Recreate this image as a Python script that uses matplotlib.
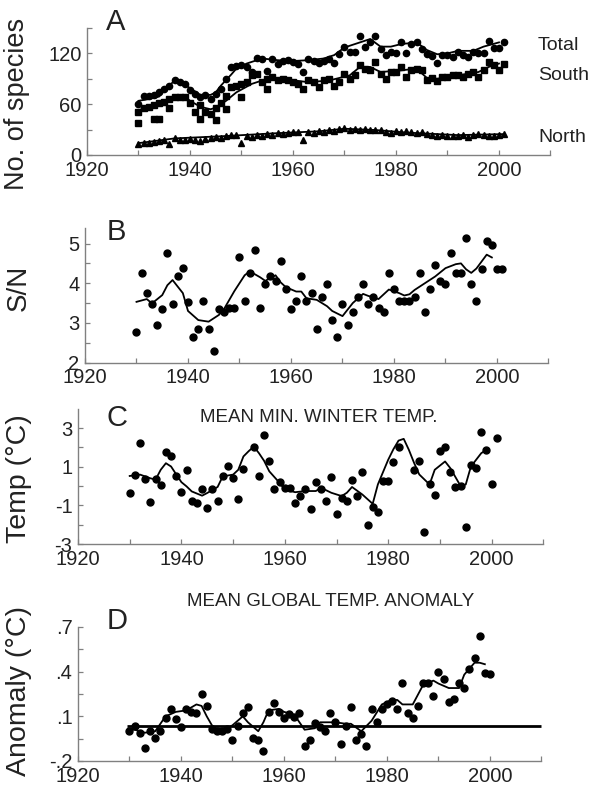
import numpy as np
import matplotlib
matplotlib.use('Agg')
import matplotlib.pyplot as plt
from matplotlib.ticker import FixedLocator

plt.rcParams['font.family'] = ['Liberation Sans', 'DejaVu Sans']

# ---- panel A : number of species ----
years_a = list(range(1930, 2002))
total = [60, 70, 70, 71, 74, 78, 82, 88, 86, 84,
         77, 72, 68, 71, 66, 72, 78, 90, 104, 105,
         106, 104, 98, 115, 113, 99, 113, 107, 111, 112,
         110, 107, 98, 113, 111, 109, 111, 113, 109, 119,
         127, 122, 122, 141, 127, 133, 140, 125, 118, 122,
         120, 134, 120, 131, 133, 125, 119, 117, 109, 118,
         118, 116, 122, 118, 116, 122, 121, 121, 135, 126,
         126, 133]
south = [51, 55, 57, 59, 61, 63, 66, 69, 69, 69,
         61, 51, 59, 51, 49, 55, 61, 70, 80, 82,
         84, 86, 94, 96, 86, 90, 92, 88, 90, 88,
         86, 84, 78, 88, 86, 80, 88, 90, 82, 86,
         96, 90, 94, 106, 102, 100, 110, 96, 90, 98,
         98, 104, 92, 100, 102, 100, 89, 91, 87, 92,
         92, 94, 95, 92, 96, 98, 92, 100, 110, 106,
         100, 108]
south_extra_years = [1930, 1933, 1934, 1936, 1942, 1945, 1947, 1950, 1955]
south_extra = [38, 43, 43, 56, 42, 41, 54, 69, 78]
north = [13, 14, 14, 15, 16, 18, 13, 20, 18, 18,
         19, 18, 17, 19, 20, 21, 20, 22, 24, 24,
         14, 22, 21, 24, 23, 25, 24, 26, 25, 26,
         27, 27, 18, 27, 26, 28, 27, 29, 28, 31,
         32, 30, 31, 30, 31, 30, 30, 29, 27, 26,
         28, 27, 28, 27, 26, 27, 25, 24, 23, 24,
         22, 23, 22, 24, 21, 24, 25, 24, 22, 23,
         24, 25]

total_fit_years = [1930, 1932, 1934, 1935, 1937, 1939, 1942, 1944, 1945, 1946, 1948, 1949,
                   1951, 1954, 1957, 1960, 1963, 1966, 1968, 1970, 1973, 1975, 1977,
                   1979, 1981, 1984, 1986, 1988, 1990, 1992, 1995, 1997, 2000]
total_fit = [64, 66, 69, 76, 88, 83, 71, 71, 74, 82, 95, 102,
             108, 114, 112, 111, 112, 114, 118, 127, 133, 137, 128,
             128, 131, 133, 124, 119, 120, 123, 123, 128, 133]
south_fit_years = [1930, 1934, 1937, 1939, 1940, 1942, 1944, 1945, 1947, 1949, 1952, 1955,
                   1959, 1963, 1967, 1971, 1973, 1975, 1977, 1981, 1984, 1986, 1988,
                   1992, 1996, 1998, 2000]
south_fit = [53, 59, 69, 69, 64, 57, 54, 56, 64, 74, 84, 90,
             89, 86, 88, 94, 104, 104, 98, 100, 102, 91, 90,
             94, 98, 104, 108]
north_fit_years = [1930, 1937, 1947, 1956, 1965, 1970, 1976, 1982, 1992, 2001]
north_fit = [14, 19.6, 22.4, 25.5, 28, 31, 29.5, 26.5, 23.5, 24.7]

# ---- panel B : S/N ratio ----
years_b = list(range(1930, 2002))
sn = [2.77, 4.26, 3.75, 3.47, 2.95, 3.35, 4.76, 3.47, 4.17, 4.38,
      3.53, 2.64, 2.85, 3.56, 2.85, 2.3, 3.35, 3.28, 3.37, 3.37,
      4.66, 3.56, 4.26, 4.85, 3.37, 3.98, 4.17, 4.06, 4.55, 3.85,
      3.35, 3.56, 4.17, 3.56, 3.75, 2.85, 3.64, 3.98, 3.07, 2.64,
      3.47, 2.95, 3.27, 3.64, 3.98, 3.47, 3.64, 3.37, 3.27, 4.26,
      3.85, 3.56, 3.56, 3.56, 3.64, 4.26, 3.27, 3.85, 4.46, 4.06,
      3.98, 4.76, 4.26, 4.26, 5.15, 3.98, 3.56, 4.37, 5.07, 4.96,
      4.37, 4.37]
sn_fit_years = [1930, 1932, 1933, 1935, 1936, 1937, 1939, 1940, 1942, 1944, 1946, 1947,
                1949, 1951, 1952, 1954, 1955, 1957, 1958, 1959, 1961, 1962, 1963, 1965,
                1967, 1968, 1970, 1972, 1974, 1975, 1977, 1979, 1981, 1982, 1983, 1984,
                1986, 1988, 1990, 1992, 1993, 1994, 1995, 1996, 1998, 1999]
sn_fit = [3.53, 3.6, 3.49, 3.7, 3.95, 4.08, 3.75, 3.3, 3.07, 3.03, 3.2, 3.35,
          3.8, 4.2, 4.3, 4.15, 4.06, 4.2, 4.02, 3.9, 3.79, 3.79, 3.62, 3.58,
          3.42, 3.3, 3.17, 3.5, 3.73, 3.68, 3.6, 3.84, 3.75, 3.69, 3.72, 3.83,
          4.0, 4.17, 4.38, 4.48, 4.5, 4.35, 4.26, 4.37, 4.72, 4.65]

# ---- panel C : mean min. winter temp ----
years_c = [y for y in range(1930, 2002) if y not in (1953, 1983, 1984)]
temp = [-0.35, 0.59, 2.25, 0.37, -0.83, 0.37, 0.04, 1.78, 1.53, 0.54,
        -0.32, 0.85, -0.78, -0.9, -0.13, -1.12, -0.14, -0.78, 0.54, 1.05,
        0.42, -0.66, 0.88, 2.01, 0.54, 2.64, 1.27, -0.14, 0.2,
        -0.09, -0.09, -0.86, -0.52, -0.14, -1.2, 0.2, -0.14, -0.8, 0.47,
        -1.46, -0.61, -0.78, 0.3, -0.52, 0.71, -2.01, -1.09, -1.34, 0.25,
        0.25, 1.24, 2.01, 0.85, 1.31, -2.37, 0.11, -0.47,
        1.82, 2.04, 0.71, -0.06, 0.0, -2.11, 1.07, 0.93, 2.81, 1.87,
        0.11, 2.47]
temp_fit_years = [1930, 1932, 1934, 1935, 1936, 1937, 1938, 1939, 1940, 1941, 1942, 1944,
                  1945, 1947, 1948, 1950, 1951, 1952, 1953, 1954, 1955, 1956, 1957, 1959,
                  1960, 1962, 1964, 1966, 1967, 1969, 1971, 1972, 1973, 1975, 1977, 1978,
                  1980, 1981, 1982, 1983, 1984, 1985, 1986, 1988, 1989, 1991, 1992, 1994,
                  1995, 1996, 1998, 1999]
temp_fit = [0.52, 0.59, 0.4, 0.33, 0.84, 1.18, 1.01, 0.6, 0.2, -0.02, -0.28, -0.5,
            -0.36, -0.05, 0.5, 0.59, 0.84, 1.53, 1.8, 2.04, 1.7, 1.3, 0.76, 0.16,
            -0.18, -0.32, -0.26, -0.26, -0.09, -0.35, -0.52, -0.35, -0.05, -0.44, -0.92, 0.08,
            1.36, 1.9, 2.35, 2.44, 1.87, 1.2, 0.6, 0.08, 0.84, 1.27, 0.93, 0.0,
            0.08, 1.01, 1.7, 1.87]

# ---- panel D : global temp anomaly ----
years_d = list(range(1930, 2001))
anom = [0.0, 0.035, -0.012, -0.11, 0.0, -0.045, 0.0, 0.091, 0.152, 0.084,
        0.028, 0.152, 0.129, 0.122, 0.252, 0.169, 0.013, 0.0, 0.0, 0.013,
        -0.061, 0.035, 0.122, 0.163, -0.043, -0.061, -0.133, 0.129, 0.192, 0.129,
        0.091, 0.118, 0.095, 0.122, -0.101, -0.061, 0.058, 0.028, 0.0, 0.122,
        0.062, -0.083, 0.035, 0.163, -0.061, -0.016, -0.101, 0.152, 0.062, 0.152,
        0.185, 0.2, 0.152, 0.324, 0.122, 0.091, 0.169, 0.326, 0.326, 0.236,
        0.397, 0.353, 0.196, 0.214, 0.324, 0.29, 0.415, 0.491, 0.637, 0.393,
        0.382]
anom_fit_years = [1930, 1931, 1933, 1935, 1937, 1939, 1941, 1943, 1944, 1945, 1946, 1947,
                  1949, 1950, 1952, 1953, 1955, 1956, 1957, 1959, 1960, 1962, 1964, 1966,
                  1967, 1970, 1972, 1973, 1975, 1977, 1979, 1981, 1982, 1983, 1985, 1987,
                  1989, 1990, 1992, 1994, 1995, 1997, 1998, 1999]
anom_fit = [0.01, 0.01, -0.01, 0.0, 0.1, 0.13, 0.14, 0.18, 0.17, 0.1, 0.04, 0.01,
            0.02, 0.04, 0.1, 0.06, 0.0, 0.06, 0.14, 0.15, 0.13, 0.11, 0.01, 0.02,
            0.06, 0.06, 0.05, 0.05, 0.0, 0.07, 0.18, 0.21, 0.21, 0.18, 0.18, 0.31,
            0.34, 0.32, 0.29, 0.29, 0.38, 0.46, 0.46, 0.45]
anom_ref = 0.035

SPINE = '#808080'
TXT = '#222222'
W, H = 591, 787


def box(l, t, r, b):
    # pixel box -> figure fraction
    return [l / W, 1 - b / H, (r - l) / W, (b - t) / H]


def style(ax, ylim, ymaj, ylabels, ymin):
    ax.set_xlim(1920, 2010)
    ax.set_ylim(*ylim)
    for s in ['top', 'right']:
        ax.spines[s].set_visible(False)
    for s in ['left', 'bottom']:
        ax.spines[s].set_color(SPINE)
        ax.spines[s].set_linewidth(1.0)
    ax.xaxis.set_major_locator(FixedLocator([1920, 1940, 1960, 1980, 2000]))
    ax.xaxis.set_minor_locator(FixedLocator([1930, 1950, 1970, 1990, 2010]))
    ax.set_xticklabels(['1920', '1940', '1960', '1980', '2000'])
    ax.yaxis.set_major_locator(FixedLocator(ymaj))
    ax.yaxis.set_minor_locator(FixedLocator(ymin))
    ax.set_yticklabels(ylabels)
    ax.tick_params(which='both', direction='in', length=3.5, width=0.9, color=SPINE,
                   labelsize=14.5, labelcolor=TXT)
    ax.tick_params(axis='x', pad=4)
    ax.tick_params(axis='y', pad=4)
    ax.patch.set_visible(False)


fig = plt.figure(figsize=(5.91, 7.87), dpi=100)

# A
ax = fig.add_axes(box(87, 28, 550.5, 155))
ax.plot(total_fit_years, total_fit, color='black', lw=1.3)
ax.plot(south_fit_years, south_fit, color='black', lw=1.3)
ax.plot(north_fit_years, north_fit, color='black', lw=1.3)
ax.plot(years_a, total, 'o', color='black', ms=4.5)
ax.plot(years_a, south, 's', color='black', ms=4)
ax.plot(south_extra_years, south_extra, 's', color='black', ms=4)
ax.plot(years_a, north, '^', color='black', ms=5)
style(ax, (0, 150), [0, 60, 120], ['0', '60', '120'], [30, 90, 150])
ax.set_ylabel('No. of species', fontsize=19.5, color=TXT)
ax.yaxis.set_label_coords(-0.122, 0.40)
fig.text(106 / W, 1 - 22 / H, 'A', fontsize=21, va='center', ha='left', color=TXT)
fig.text(538 / W, 1 - 45 / H, 'Total', fontsize=14, va='center', ha='left', color=TXT)
fig.text(538 / W, 1 - 76 / H, 'South', fontsize=14, va='center', ha='left', color=TXT)
fig.text(538 / W, 1 - 137 / H, 'North', fontsize=14, va='center', ha='left', color=TXT)

# B
ax = fig.add_axes(box(85, 227.7, 548.5, 362.5))
ax.plot(sn_fit_years, sn_fit, color='black', lw=1.3)
ax.plot(years_b, sn, 'o', color='black', ms=5)
style(ax, (2, 5.4), [2, 3, 4, 5], ['2', '3', '4', '5'], [2.5, 3.5, 4.5])
ax.set_ylabel('S/N', fontsize=20, color=TXT)
ax.yaxis.set_label_coords(-0.114, 0.55)
fig.text(107 / W, 1 - 232 / H, 'B', fontsize=21, va='center', ha='left', color=TXT)

# C
ax = fig.add_axes(box(78, 408.7, 543.3, 544))
ax.plot(temp_fit_years, temp_fit, color='black', lw=1.3)
ax.plot(years_c, temp, 'o', color='black', ms=5)
style(ax, (-3, 4), [-3, -1, 1, 3], ['-3', '-1', '1', '3'], [-2, 0, 2])
ax.set_ylabel('Temp (°C)', fontsize=20.5, color=TXT)
ax.yaxis.set_label_coords(-0.099, 0.48)
fig.text(107 / W, 1 - 418 / H, 'C', fontsize=21, va='center', ha='left', color=TXT)
fig.text(319 / W, 1 - 417 / H, 'MEAN MIN. WINTER TEMP.', fontsize=13.5,
         va='center', ha='center', color=TXT)

# D
ax = fig.add_axes(box(78, 627, 541.5, 761))
ax.hlines(anom_ref, 1929.5, 2010, color='black', lw=2)
ax.plot(anom_fit_years, anom_fit, color='black', lw=1.3)
ax.plot(years_d, anom, 'o', color='black', ms=5)
style(ax, (-0.2, 0.7), [-0.2, 0.1, 0.4, 0.7], ['-.2', '.1', '.4', '.7'], [-0.05, 0.25, 0.55])
ax.set_ylabel('Anomaly (°C)', fontsize=20.5, color=TXT)
ax.yaxis.set_label_coords(-0.099, 0.52)
fig.text(107 / W, 1 - 621 / H, 'D', fontsize=21, va='center', ha='left', color=TXT)
fig.text(331 / W, 1 - 602 / H, 'MEAN GLOBAL TEMP. ANOMALY', fontsize=13.5,
         va='center', ha='center', color=TXT)

fig.savefig('out.png', dpi=100)
